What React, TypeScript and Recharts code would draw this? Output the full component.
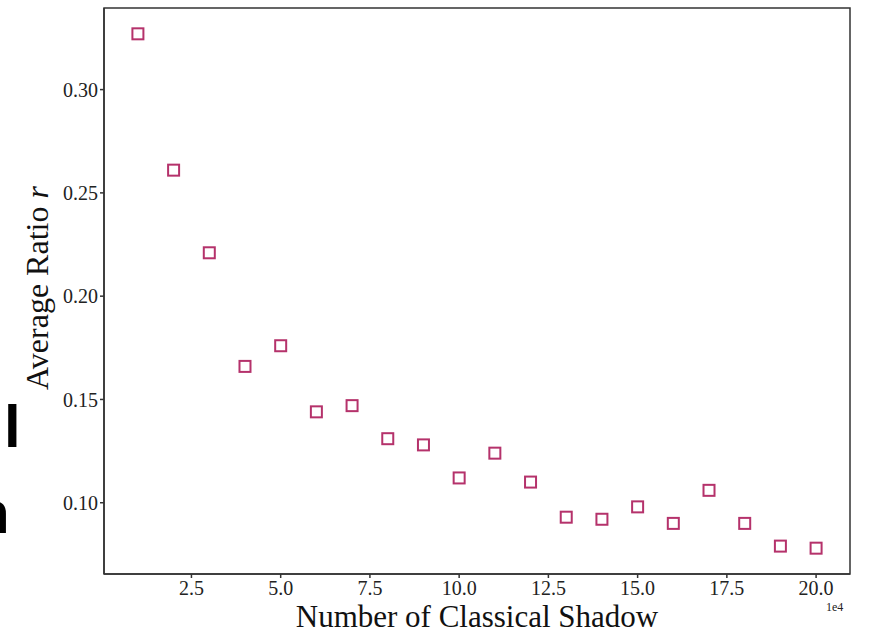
import { ScatterChart, Scatter, XAxis, YAxis, ReferenceArea } from "recharts";

const shadowCounts = [1, 2, 3, 4, 5, 6, 7, 8, 9, 10, 11, 12, 13, 14, 15, 16, 17, 18, 19, 20];
const averageRatio = [
  0.327, 0.261, 0.221, 0.166, 0.176, 0.144, 0.147, 0.131, 0.128, 0.112,
  0.124, 0.110, 0.093, 0.092, 0.098, 0.090, 0.106, 0.090, 0.079, 0.078,
];
const xTicks = [2.5, 5, 7.5, 10, 12.5, 15, 17.5, 20];
const yTicks = [0.1, 0.15, 0.2, 0.25, 0.3];
const xDomain = [0.05, 20.95];
const yDomain = [0.0655, 0.3395];

const points = shadowCounts.map((n, i) => ({ n, r: averageRatio[i] }));

const MARKER = "#b5326b";
const SPINE = "#333";
const FONT = "'Liberation Serif', 'DejaVu Serif', serif";

const SquareMarker = (props: any) => {
  const { cx, cy } = props;
  if (cx == null || cy == null) return null;
  return <rect x={cx - 5.5} y={cy - 5.5} width={11} height={11} fill="none" stroke={MARKER} strokeWidth={2} />;
};

const XLabel = ({ viewBox }: any) => (
  <text x={viewBox.x + viewBox.width / 2} y={viewBox.y + 53} textAnchor="middle" fill="#111" fontSize={31} fontFamily={FONT}>
    Number of Classical Shadow
  </text>
);

const YLabel = ({ viewBox }: any) => {
  const cx = 37;
  const cy = viewBox.y + viewBox.height / 2 - 3;
  return (
    <text x={cx} y={cy} transform={`rotate(-90 ${cx} ${cy})`} textAnchor="middle" dominantBaseline="central" fill="#111" fontSize={32} fontFamily={FONT}>
      Average Ratio <tspan fontStyle="italic">r</tspan>
    </text>
  );
};

export default function App() {
  const tickStyle = { fill: "#222", fontSize: 20, fontFamily: FONT };
  return (
    <div style={{ position: "absolute", left: 0, top: 0, width: 869, height: 630, background: "#fff", overflow: "hidden" }}>
      <ScatterChart width={869} height={630} margin={{ top: 8, right: 19, bottom: 6, left: 8 }}>
        <XAxis
          type="number"
          dataKey="n"
          domain={xDomain}
          ticks={xTicks}
          tickFormatter={(v) => v.toFixed(1)}
          tick={tickStyle}
          tickSize={4}
          tickMargin={3}
          height={50}
          stroke={SPINE}
          strokeWidth={1.5}
          allowDataOverflow
          label={<XLabel />}
        />
        <YAxis
          type="number"
          dataKey="r"
          domain={yDomain}
          ticks={yTicks}
          tickFormatter={(v) => v.toFixed(2)}
          tick={tickStyle}
          tickSize={4}
          tickMargin={2}
          width={96}
          stroke={SPINE}
          strokeWidth={1.5}
          allowDataOverflow
          label={<YLabel />}
        />
        <ReferenceArea x1={xDomain[0]} x2={xDomain[1]} y1={yDomain[0]} y2={yDomain[1]} fill="none" stroke={SPINE} strokeWidth={1.5} ifOverflow="visible" />
        <Scatter data={points} shape={SquareMarker} isAnimationActive={false} />
      </ScatterChart>
      <div style={{ position: "absolute", left: 826, top: 600, fontSize: 12, fontFamily: FONT, color: "#222" }}>1e4</div>
      <div style={{ position: "absolute", left: 4, top: 397, fontSize: 60, fontWeight: 700, fontFamily: "'Liberation Sans', sans-serif", lineHeight: 1, color: "#000" }}>l</div>
      <div style={{ position: "absolute", left: -27, top: 483, fontSize: 60, fontWeight: 700, fontFamily: "'Liberation Sans', sans-serif", lineHeight: 1, color: "#000" }}>n</div>
    </div>
  );
}
